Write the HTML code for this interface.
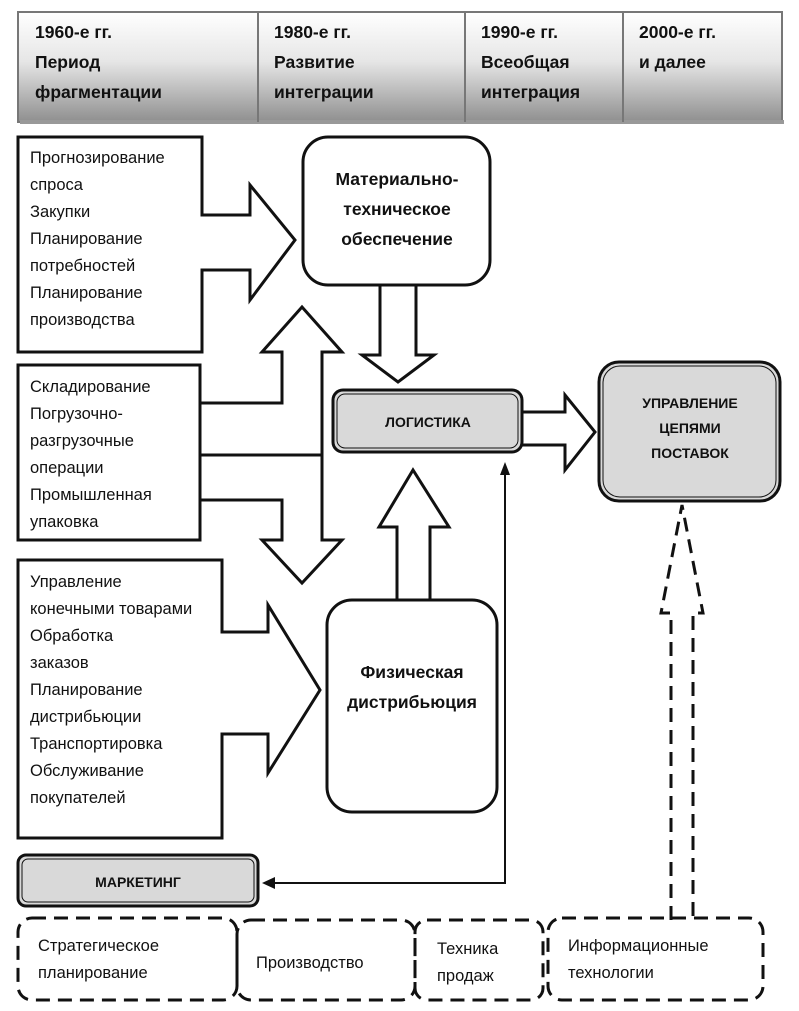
<!DOCTYPE html>
<html><head><meta charset="utf-8"><style>
html,body{margin:0;padding:0;background:#fff;}
svg{display:block;}
text{font-family:"Liberation Sans",sans-serif;fill:#111;}
.l{font-size:16.5px;}
.b{font-size:17.5px;font-weight:bold;}
.s{font-size:14px;font-weight:bold;}
</style></head><body>
<svg width="799" height="1011" viewBox="0 0 799 1011" xmlns="http://www.w3.org/2000/svg">
<defs>
<linearGradient id="hg" x1="0" y1="0" x2="0" y2="1">
<stop offset="0" stop-color="#ffffff"/><stop offset="0.45" stop-color="#e6e6e6"/><stop offset="1" stop-color="#8f8f8f"/>
</linearGradient>
</defs>
<rect x="18" y="12" width="764" height="110" fill="url(#hg)" stroke="#777" stroke-width="2"/>
<rect x="20" y="120" width="764" height="4" fill="#999"/>
<line x1="258" y1="12" x2="258" y2="122" stroke="#777" stroke-width="2"/>
<line x1="465" y1="12" x2="465" y2="122" stroke="#777" stroke-width="2"/>
<line x1="623" y1="12" x2="623" y2="122" stroke="#777" stroke-width="2"/>
<g>
<text x="35" y="38" class="b">1960-е гг.</text><text x="35" y="68" class="b">Период</text><text x="35" y="98" class="b">фрагментации</text>
<text x="274" y="38" class="b">1980-е гг.</text><text x="274" y="68" class="b">Развитие</text><text x="274" y="98" class="b">интеграции</text>
<text x="481" y="38" class="b">1990-е гг.</text><text x="481" y="68" class="b">Всеобщая</text><text x="481" y="98" class="b">интеграция</text>
<text x="639" y="38" class="b">2000-е гг.</text><text x="639" y="68" class="b">и далее</text>
</g>
<g fill="none" stroke="#111" stroke-width="3">
<path d="M18 137 H202 V215 H250 V185 L295 240 L250 300 V270 H202 V352 H18 Z" fill="#fff"/>
<rect x="303" y="137" width="187" height="148" rx="25" fill="#fff"/>
<path d="M380 285 V355 H362 L398 382 L434 355 H416 V285"/>
<rect x="18" y="365" width="182" height="175" fill="#fff"/>
<path d="M200 403 H282 V352 H262 L302 307 L342 352 H322 V540 H342 L302 583 L262 540 H282 V500 H200"/>
<path d="M200 455 H322"/>
<rect x="333" y="390" width="189" height="62" rx="10" fill="#d9d9d9"/>
<rect x="337" y="394" width="181" height="54" rx="8" stroke-width="1"/>
<path d="M522 412 H565 V395 L595 432 L565 470 V445 H522"/>
<rect x="599" y="362" width="181" height="139" rx="20" fill="#d9d9d9"/>
<rect x="603" y="366" width="173" height="131" rx="17" stroke-width="1"/>
<path d="M397 600 V527 H379 L413 470 L449 527 H430 V600"/>
<path d="M18 560 H222 V632 H268 V605 L320 690 L268 773 V734 H222 V838 H18 Z" fill="#fff"/>
<rect x="327" y="600" width="170" height="212" rx="25" fill="#fff"/>
<path d="M505 470 V883 H268" stroke-width="2"/>
<rect x="18" y="855" width="240" height="51" rx="8" fill="#d9d9d9"/>
<rect x="22" y="859" width="232" height="43" rx="6" stroke-width="1"/>
<path d="M671 920 V613 H661 L682 505 L703 613 H693 V920" stroke-dasharray="14 8"/>
<g stroke-dasharray="14 8">
<rect x="18" y="918" width="219" height="82" rx="14"/>
<rect x="237" y="920" width="178" height="80" rx="14"/>
<rect x="415" y="920" width="128" height="80" rx="12"/>
<rect x="548" y="918" width="215" height="82" rx="14"/>
</g>
</g>
<path d="M505 462 L500 475 L510 475 Z" fill="#111"/>
<path d="M262 883 L275 877 L275 889 Z" fill="#111"/>
<g class="l">
<text x="30" y="163">Прогнозирование</text><text x="30" y="190">спроса</text><text x="30" y="217">Закупки</text><text x="30" y="244">Планирование</text><text x="30" y="271">потребностей</text><text x="30" y="298">Планирование</text><text x="30" y="325">производства</text>
<text x="30" y="392">Складирование</text><text x="30" y="419">Погрузочно-</text><text x="30" y="446">разгрузочные</text><text x="30" y="473">операции</text><text x="30" y="500">Промышленная</text><text x="30" y="527">упаковка</text>
<text x="30" y="587">Управление</text><text x="30" y="614">конечными товарами</text><text x="30" y="641">Обработка</text><text x="30" y="668">заказов</text><text x="30" y="695">Планирование</text><text x="30" y="722">дистрибьюции</text><text x="30" y="749">Транспортировка</text><text x="30" y="776">Обслуживание</text><text x="30" y="803">покупателей</text>
<text x="38" y="951">Стратегическое</text><text x="38" y="978">планирование</text>
<text x="256" y="968">Производство</text>
<text x="437" y="954">Техника</text><text x="437" y="981">продаж</text>
<text x="568" y="951">Информационные</text><text x="568" y="978">технологии</text>
</g>
<g text-anchor="middle">
<text x="397" y="185" class="b">Материально-</text><text x="397" y="215" class="b">техническое</text><text x="397" y="245" class="b">обеспечение</text>
<text x="412" y="678" class="b">Физическая</text><text x="412" y="708" class="b">дистрибьюция</text>
<text x="428" y="427" class="s">ЛОГИСТИКА</text>
<text x="690" y="408" class="s">УПРАВЛЕНИЕ</text><text x="690" y="433" class="s">ЦЕПЯМИ</text><text x="690" y="458" class="s">ПОСТАВОК</text>
<text x="138" y="887" class="s">МАРКЕТИНГ</text>
</g>
</svg>
</body></html>
